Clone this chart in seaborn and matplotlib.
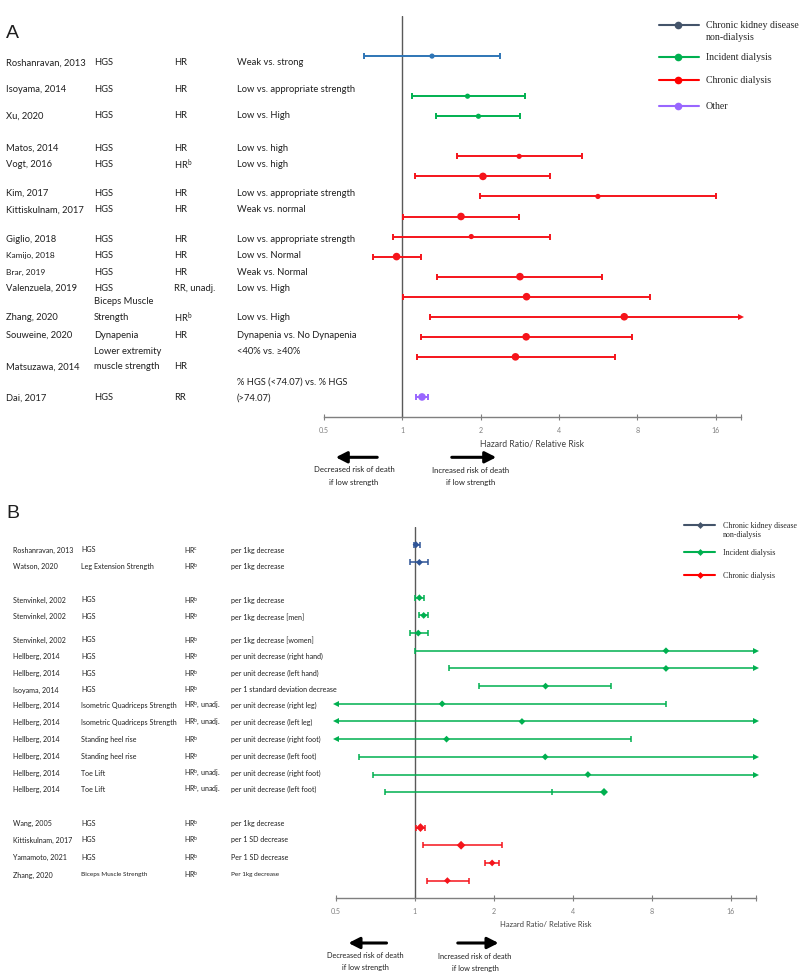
import re
import numpy as np
import pandas as pd
import matplotlib
matplotlib.use("Agg")
import matplotlib.pyplot as plt
import seaborn as sns
from matplotlib.lines import Line2D
from matplotlib.patches import FancyArrowPatch
from matplotlib.ticker import FixedLocator, NullLocator
from matplotlib.font_manager import FontProperties, findfont

sns.set_theme(style="white")


def pick(cands):
    for c in cands:
        try:
            findfont(FontProperties(family=c), fallback_to_default=False)
            return c
        except ValueError:
            pass
    return "DejaVu Sans"


SANS = [pick(["Liberation Sans Narrow", "Lato", "Liberation Sans"]),
        "DejaVu Sans"]
SERIF = [pick(["Liberation Serif", "DejaVu Serif"]), "DejaVu Serif"]
plt.rcParams["font.family"] = SANS

W, H = 800, 979
NaN = np.nan

# ---------------- panel A data (blank rows are gaps) ----------------
a_study = ["Roshanravan, 2013", "", "Isoyama, 2014", "Xu, 2020", "",
           "Matos, 2014", "Vogt, 2016", "Kim, 2017", "Kittiskulnam, 2017",
           "Giglio, 2018", "Kamijo, 2018", "Brar, 2019", "Valenzuela, 2019",
           "Zhang, 2020", "Souweine, 2020", "Matsuzawa, 2014", "",
           "Dai, 2017"]
a_measure = ["HGS", "", "HGS", "HGS", "", "HGS", "HGS", "HGS", "HGS", "HGS",
             "HGS", "HGS", "HGS", "Biceps Muscle\nStrength", "Dynapenia",
             "Lower extremity\nmuscle strength", "", "HGS"]
a_type = ["HR", "", "HR", "HR", "", "HR", "HR^b", "HR", "HR", "HR", "HR",
          "HR", "RR, unadj.", "HR^b", "HR", "HR", "", "RR"]
a_comp = ["Weak vs. strong", "", "Low vs. appropriate strength",
          "Low vs. High", "", "Low vs. high", "Low vs. high",
          "Low vs. appropriate strength", "Weak vs. normal",
          "Low vs. appropriate strength", "Low vs. Normal", "Weak vs. Normal",
          "Low vs. High", "Low vs. High", "Dynapenia vs. No Dynapenia",
          "<40% vs. \u226540%\n", "", "% HGS (<74.07) vs. % HGS\n(>74.07)"]
a_group = ["CKD", "", "Incident", "Incident", "", "Chronic", "Chronic",
           "Chronic", "Chronic", "Chronic", "Chronic", "Chronic", "Chronic",
           "Chronic", "Chronic", "Chronic", "", "Other"]
a_est = [1.30, NaN, 1.78, 1.96, NaN, 2.81, 2.04, 5.64, 1.68, 1.84, 0.95,
         2.83, 3.00, 7.12, 2.99, 2.72, NaN, 1.19]
a_lo = [0.71, NaN, 1.09, 1.35, NaN, 1.62, 1.12, 1.99, 1.01, 0.92, 0.77,
        1.36, 1.01, 1.28, 1.18, 1.14, NaN, 1.13]
a_hi = [2.37, NaN, 2.96, 2.84, NaN, 4.91, 3.70, 16.0, 2.81, 3.69, 1.18,
        5.84, 8.96, 20.0, 7.62, 6.54, NaN, 1.26]

# ---------------- panel B data ----------------
b_study = ["Roshanravan, 2013", "Watson, 2020", "", "Stenvinkel, 2002",
           "Stenvinkel, 2002", "Stenvinkel, 2002", "Hellberg, 2014",
           "Hellberg, 2014", "Isoyama, 2014", "Hellberg, 2014",
           "Hellberg, 2014", "Hellberg, 2014", "Hellberg, 2014",
           "Hellberg, 2014", "Hellberg, 2014", "", "Wang, 2005",
           "Kittiskulnam, 2017", "Yamamoto, 2021", "Zhang, 2020"]
b_measure = ["HGS", "Leg Extension Strength", "", "HGS", "HGS", "HGS", "HGS",
             "HGS", "HGS", "Isometric Quadriceps Strength",
             "Isometric Quadriceps Strength", "Standing heel rise",
             "Standing heel rise", "Toe Lift", "Toe Lift", "", "HGS", "HGS",
             "HGS", "Biceps Muscle Strength"]
b_type = ["HR^c", "HR^b", "", "HR^b", "HR^b", "HR^b", "HR^b", "HR^b", "HR^b",
          "HR^b, unadj.", "HR^b, unadj.", "HR^b", "HR^b", "HR^b, unadj.",
          "HR^b, unadj.", "", "HR^b", "HR^b", "HR^b", "HR^b"]
b_comp = ["per 1kg decrease", "per 1kg decrease", "", "per 1kg decrease",
          "per 1kg decrease [men]", "per 1kg decrease [women]",
          "per unit decrease (right hand)", "per unit decrease (left hand)",
          "per 1 standard deviation decrease", "per unit decrease (right leg)",
          "per unit decrease (left leg)", "per unit decrease (right foot)",
          "per unit decrease (left foot)", "per unit decrease (right foot)",
          "per unit decrease (left foot)", "", "per 1kg decrease",
          "per 1 SD decrease", "Per 1 SD decrease", "Per 1kg decrease"]
b_group = ["CKD", "CKD", "", "Incident", "Incident", "Incident", "Incident",
           "Incident", "Incident", "Incident", "Incident", "Incident",
           "Incident", "Incident", "Incident", "", "Chronic", "Chronic",
           "Chronic", "Chronic"]
b_est = [1.01, 1.04, NaN, 1.04, 1.08, 1.03, 9.07, 9.07, 3.15, 1.27, 2.56,
         1.32, 3.14, 4.57, 3.34, NaN, 1.05, 1.50, 1.97, 1.33]
b_lo = [0.99, 0.96, NaN, 1.00, 1.036, 0.96, 1.00, 1.35, 1.76, 0.5, 0.5, 0.5,
        0.61, 0.69, 0.77, NaN, 1.01, 1.07, 1.85, 1.11]
b_hi = [1.045, 1.12, NaN, 1.085, 1.12, 1.12, 20.0, 20.0, 5.59, 9.1, 20.0,
        6.65, 20.0, 20.0, 5.26, NaN, 1.09, 2.14, 2.10, 1.61]

legend_labels = ["Chronic kidney disease\nnon-dialysis", "Incident dialysis",
                 "Chronic dialysis", "Other"]
legend_keys = ["CKD", "Incident", "Chronic", "Other"]
xticks = [0.5, 1, 2, 4, 8, 16]

# ---------------- styles / layout ----------------
pal_a = {"CKD": "#2E75B6", "Incident": "#00B050", "Chronic": "#F5141B",
         "Other": "#9966FF"}
pal_b = {"CKD": "#2F5597", "Incident": "#00B050", "Chronic": "#F5141B"}
pal_leg = {"CKD": "#44546A", "Incident": "#00B050", "Chronic": "#FF0000",
           "Other": "#9966FF"}
a_size = ["s", "", "s", "s", "", "s", "b", "s", "b", "s", "b", "b", "b", "b",
          "b", "b", "", "b"]
b_size = ["s", "s", "", "s", "s", "s", "s", "s", "s", "s", "s", "s", "s", "s",
          "tick", "", "b", "b", "s", "s"]
a_text_y = [62.7, None, 89.3, 116, None, 148.3, 164.3, 193.3, 210, 239.3,
            255.7, 272.3, 288.3, 317.3, 335, 366.7, None, 397.7]
b_text_y = [550, 566.7, None, 600, 616.7, 640, 656.7, 673.3, 690, 705.7,
            722.3, 739.7, 756.3, 773, 789.7, None, 823.3, 840, 857.3, 875]
XMIN, XMAX = 0.5, 20

fig = plt.figure(figsize=(W / 100, H / 100), dpi=100)
fig.patch.set_facecolor("white")
renderer = fig.canvas.get_renderer()


def fit(s, target, family=SANS):
    # font size (pt) that makes string s about target pixels wide
    t = fig.text(0, 0, s, fontsize=10, family=family)
    w = t.get_window_extent(renderer).width
    t.remove()
    return 10 * target / w


def fx(x):
    return x / W


def fy(y):
    return 1 - y / H


def sup(s):
    return re.sub(r"\^(\w)", r"$^{\\mathregular{\1}}$", s)


def ftext(x, y, s, size, ha="left", family=SANS, color="#1f1f1f"):
    fig.text(fx(x), fy(y), s, fontsize=size, ha=ha, va="center",
             family=family, color=color)


def cell(x, y, s, size, step):
    lines = s.split("\n")
    n = len(lines)
    for i, line in enumerate(lines):
        if line:
            ftext(x, y - (n - 1 - i) * step, sup(line), size)


def frame(d):
    df = pd.DataFrame(d)
    df["y"] = np.arange(len(df))
    return df


def forest(ax, df, pal, lw, cap_ms, arr_ms, sizes, marker):
    d = df.dropna(subset=["est"])
    for _, r in d.iterrows():
        c = pal[r.group]
        ax.hlines(r.y, r.lo, r.hi, color=c, lw=lw, zorder=2)
        if r.lo <= XMIN:
            ax.plot(r.lo, r.y, marker="<", ms=arr_ms, color=c, mew=0,
                    clip_on=False, zorder=3)
        else:
            ax.plot(r.lo, r.y, marker="|", ms=cap_ms, mew=lw, color=c,
                    zorder=3)
        if r.hi >= XMAX:
            ax.plot(r.hi, r.y, marker=">", ms=arr_ms, color=c, mew=0,
                    clip_on=False, zorder=3)
        elif r.msize == "tick":
            ax.plot(r.hi, r.y, marker=marker, ms=4.2, color=c, mew=0,
                    zorder=4)
        else:
            ax.plot(r.hi, r.y, marker="|", ms=cap_ms, mew=lw, color=c,
                    zorder=3)
        if r.msize == "tick":
            ax.plot(r.est, r.y, marker="|", ms=cap_ms, mew=lw, color=c,
                    zorder=3)
    pts = d[d.msize != "tick"]
    sns.scatterplot(data=pts, x="est", y="y", hue="group", palette=pal,
                    size="msize", sizes=sizes, marker=marker, linewidth=0,
                    legend=False, ax=ax, zorder=5, clip_on=False)


def style_axis(ax, top, bottom, label, lsize, tsize):
    ax.set_xscale("log", base=2)
    ax.set_xlim(XMIN, XMAX)
    ax.set_ylim(bottom, top)
    ax.axvline(1, color="#595959", lw=1, zorder=1)
    for s in ["top", "right", "left"]:
        ax.spines[s].set_visible(False)
    ax.spines["bottom"].set_color("#7f7f7f")
    ax.spines["bottom"].set_linewidth(1)
    ax.xaxis.set_major_locator(FixedLocator(xticks + [XMAX]))
    ax.xaxis.set_minor_locator(NullLocator())
    ax.set_xticklabels([str(t) for t in xticks] + [""])
    ax.tick_params(axis="x", direction="inout", length=5, width=0.8,
                   color="#7f7f7f", labelsize=tsize, labelcolor="#808080",
                   pad=4, bottom=True)
    for t in ax.get_xticklabels():
        t.set_family(SANS)
    ax.set_yticks([])
    ax.set_ylabel("")
    ax.set_xlabel(label, fontsize=lsize, color="#404040", labelpad=4,
                  family=SANS)
    ax.patch.set_alpha(0)


def arrow(x0, x1, y, lw):
    fig.add_artist(FancyArrowPatch((fx(x0), fy(y)), (fx(x1), fy(y)),
                                   transform=fig.transFigure,
                                   arrowstyle="-|>,head_length=0.55,head_width=0.28",
                                   mutation_scale=12, lw=lw, color="black"))


def legend(keys, labels, ys, x0, x1, xm, xt, marker, ms, size, step):
    for k, lab, y in zip(keys, labels, ys):
        c = pal_leg[k]
        fig.add_artist(Line2D([fx(x0), fx(x1)], [fy(y), fy(y)],
                              transform=fig.transFigure, color=c, lw=1.5))
        fig.add_artist(Line2D([fx(xm)], [fy(y)], transform=fig.transFigure,
                              marker=marker, ms=ms, color=c, mew=0))
        for i, line in enumerate(lab.split("\n")):
            ftext(xt, y + i * step, line, size, family=SERIF,
                  color="#262626")


# font sizes fitted to the widths of texts in the reference layout
fs_a = 0.5 * (fit("Low vs. appropriate strength", 119)
              + fit("Roshanravan, 2013", 79))
fs_a_small = fit("Kamijo, 2018", 49)
fs_b = 0.5 * (fit("per 1 standard deviation decrease", 106)
              + fit("Isometric Quadriceps Strength", 95))
fs_b_small = fit("Biceps Muscle Strength", 66)
fs_leg_a = fit("Incident dialysis", 65, SERIF)
fs_leg_b = fit("Incident dialysis", 52, SERIF)
fs_lab_a = fit("Hazard Ratio/ Relative Risk", 103)
fs_lab_b = fit("Hazard Ratio/ Relative Risk", 91)
fs_arr_a = fit("Decreased risk of death", 81)
fs_arr_b = fit("Decreased risk of death", 77)
fs_tick = fit("0.5", 10)

# ---------------- panel A ----------------
dfa = frame({"study": a_study, "group": a_group, "est": a_est, "lo": a_lo,
             "hi": a_hi, "msize": a_size})
axA = fig.add_axes([fx(324), fy(418), (741 - 324) / W, (418 - 17) / H])
forest(axA, dfa, pal_a, 1.4, 5, 5, {"s": 14, "b": 30}, "o")
style_axis(axA, -2, 18, "Hazard Ratio/ Relative Risk", fs_lab_a, fs_tick)

ftext(6, 33.5, "A", 14, family=["Liberation Sans", "DejaVu Sans"])
for i, ty in enumerate(a_text_y):
    if ty is None:
        continue
    ssize = fs_a_small if a_study[i] in ("Kamijo, 2018", "Brar, 2019") else fs_a
    cell(6, ty, a_study[i], ssize, 15.5)
    cell(94, ty, a_measure[i], fs_a, 15.5)
    cell(174, ty, a_type[i], fs_a, 15.5)
    cell(237, ty, a_comp[i], fs_a, 15.5)

legend(legend_keys, legend_labels, [25.7, 58, 80.7, 106.7],
       659, 699, 678, 705.7, "o", 5.5, fs_leg_a, 12)

arrow(380, 333, 458.3, 2.2)
arrow(449, 499, 458.3, 2.2)
ftext(354, 470, "Decreased risk of death", fs_arr_a, ha="center")
ftext(354, 482.3, "if low strength", fs_arr_a, ha="center")
ftext(470.7, 470.3, "Increased risk of death", fs_arr_a, ha="center")
ftext(470.7, 482.7, "if low strength", fs_arr_a, ha="center")

# ---------------- panel B ----------------
dfb = frame({"study": b_study, "group": b_group, "est": b_est, "lo": b_lo,
             "hi": b_hi, "msize": b_size})
axB = fig.add_axes([fx(336), fy(899.3), (756 - 336) / W, (899.3 - 528) / H])
forest(axB, dfb, pal_b, 1.1, 4, 4.2, {"s": 12, "b": 20}, "D")
style_axis(axB, -1, 20, "Hazard Ratio/ Relative Risk", fs_lab_b, fs_tick)

ftext(6, 514, "B", 14, family=["Liberation Sans", "DejaVu Sans"])
for i, ty in enumerate(b_text_y):
    if ty is None:
        continue
    small = b_study[i] == "Zhang, 2020"
    cell(13.3, ty, b_study[i], fs_b, 10)
    cell(81, ty, b_measure[i], fs_b_small if small else fs_b, 10)
    cell(184, ty, b_type[i], fs_b, 10)
    cell(231, ty, b_comp[i], fs_b_small if small else fs_b, 10)

legend(legend_keys[:3], legend_labels[:3], [526, 553.3, 575.7],
       684, 715, 700, 722.7, "D", 3.5, fs_leg_b, 9.5)

arrow(389.3, 345.7, 944, 2.2)
arrow(455, 501.3, 944, 2.2)
ftext(365.3, 955.7, "Decreased risk of death", fs_arr_b, ha="center")
ftext(365.3, 967.7, "if low strength", fs_arr_b, ha="center")
ftext(475, 956.3, "Increased risk of death", fs_arr_b, ha="center")
ftext(475, 968.7, "if low strength", fs_arr_b, ha="center")

fig.savefig("out.png", dpi=100, facecolor="white")
